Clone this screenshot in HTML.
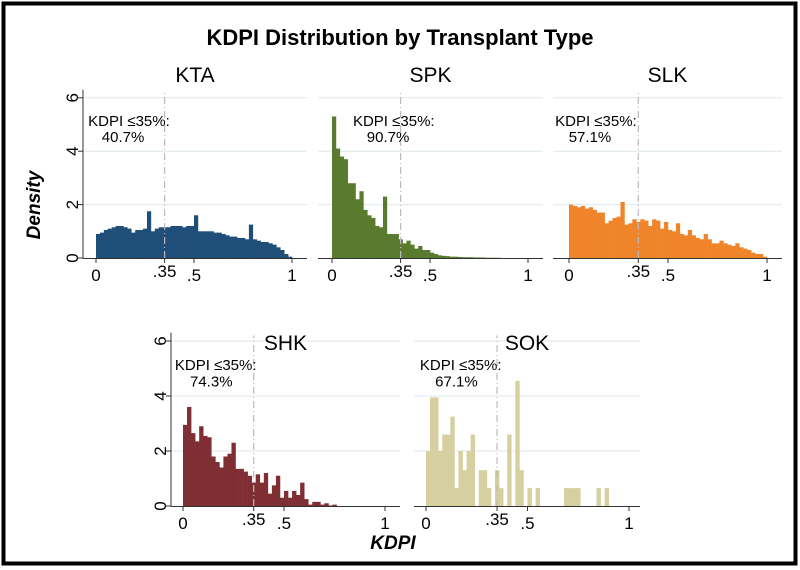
<!DOCTYPE html>
<html><head><meta charset="utf-8"><style>
html,body{margin:0;padding:0;background:#fff}
svg{display:block}
text{font-family:"Liberation Sans",Arial,sans-serif}
</style></head><body>
<svg id="chart" width="800" height="570" viewBox="0 0 800 570">
<rect x="3.5" y="3.5" width="792" height="560" fill="#fff" stroke="#000" stroke-width="4"/>
<text x="400" y="45" text-anchor="middle" font-size="22" font-weight="bold">KDPI Distribution by Transplant Type</text>
<text transform="translate(40,205) rotate(-90)" text-anchor="middle" font-size="19" font-weight="bold" font-style="italic">Density</text>
<text x="393" y="549" text-anchor="middle" font-size="19" font-weight="bold" font-style="italic">KDPI</text>
</svg>
<script>
const ktaValues=[0.9,0.95,1.05,1.1,1.15,1.2,1.2,1.15,1.1,0.95,1.05,1.05,1.1,1.75,1.0,1.1,1.15,1.15,1.15,1.2,1.2,1.2,1.15,1.2,1.2,1.6,1.0,1.0,1.0,1.0,0.95,0.95,0.9,0.85,0.8,0.8,0.75,0.75,0.7,1.25,0.7,0.65,0.6,0.6,0.55,0.5,0.4,0.3,0.15,0.05];
const spkValues=[5.3,4.1,3.8,3.7,2.8,2.8,2.2,2.5,1.8,1.6,1.5,1.2,1.15,2.3,0.9,0.9,0.9,0.7,0.55,0.65,0.5,0.35,0.45,0.3,0.3,0.2,0.15,0.1,0.08,0.07,0.05,0.05,0.04,0.03,0.03,0.03,0.02,0.02,0.02,0.01,0.01,0.01,0.01,0,0,0,0,0,0,0];
const slkValues=[2.0,1.95,1.9,1.95,1.85,1.9,1.8,1.7,1.7,1.3,1.4,1.5,1.55,2.1,1.25,1.3,1.45,1.35,1.45,1.4,1.2,1.45,1.4,1.1,1.35,1.05,1.0,1.3,0.9,0.85,1.05,0.85,0.75,0.7,0.9,0.7,0.55,0.55,0.65,0.55,0.5,0.45,0.55,0.4,0.35,0.3,0.2,0.15,0.15,0.05];
const shkValues=[2.95,3.6,2.65,2.35,2.9,2.55,2.5,1.8,1.6,1.4,1.8,1.9,2.3,1.35,1.35,1.25,1.1,0.85,1.15,0.85,1.2,0.45,0.75,1.1,0.3,0.55,0.3,0.55,0.4,0.85,0.25,0.05,0.15,0.15,0.05,0.1,0.02,0.05,0,0,0,0,0,0,0,0,0,0,0,0];
const sokValues=[2.0,3.95,3.95,2.0,2.6,2.6,3.25,0.65,2.0,1.3,2.0,2.6,0,1.3,1.3,0.65,0,1.3,0.65,0,2.6,0,4.55,1.3,0,0.65,0,0.65,0,0,0,0,0,0,0.65,0.65,0.65,0.65,0,0,0,0,0.65,0,0.65,0,0,0,0,0];
const panelNames=["KTA","SPK","SLK","SHK","SOK"];
const panelPct=["40.7%","90.7%","57.1%","74.3%","67.1%"];
const yTicks=[0,2,4,6];
const xTicks=[0,0.35,0.5,1];
const xTickLabels=["0",".35",".5","1"];
const cutoff=0.35;

const svg=document.getElementById('chart');
const NS='http://www.w3.org/2000/svg';
function mk(tag,attrs,parent){const e=document.createElementNS(NS,tag);for(const k in attrs)e.setAttribute(k,attrs[k]);(parent||svg).appendChild(e);return e;}

const panels=[
 {vals:ktaValues,color:'#1f4e79',x0:96,x1:292,left:83,right:307,y0:258,unit:26.7,axis:true,ty:82,a1:-0.04,a2:0.138},
 {vals:spkValues,color:'#5a7a2e',x0:332,x1:528,left:318,right:543,y0:258,unit:26.7,axis:false,ty:82,a1:0.107,a2:0.286},
 {vals:slkValues,color:'#f0842a',x0:569,x1:767,left:553,right:782,y0:258,unit:26.7,axis:false,ty:82,a1:-0.07,a2:0.106},
 {vals:shkValues,color:'#7f2f33',x0:183,x1:385,left:171,right:400,y0:506,unit:27.5,axis:true,ty:350,a1:-0.04,a2:0.14},
 {vals:sokValues,color:'#d6cfa0',x0:426,x1:629,left:414,right:640,y0:506,unit:27.5,axis:false,ty:350,a1:-0.03,a2:0.15}
];
panels.forEach((p,i)=>{
 const key=panelNames[i].toLowerCase();
 const g=mk('g',{});
 
 
 const xs=v=>p.x0+v*(p.x1-p.x0);
 const ys=v=>p.y0-v*p.unit;
 yTicks.forEach(t=>{ if(t===0)return;
  const l=mk('line',{x1:p.left,x2:p.right,y1:ys(t),y2:ys(t),stroke:'#dde8ee','stroke-width':1},g);
  
  
 });
 const n=p.vals.length,bw=1/n;
 p.vals.forEach((v,j)=>{ if(v<=0)return;
  const r=mk('rect',{x:xs(j*bw),y:ys(v),width:xs((j+1)*bw)-xs(j*bw)+0.3,height:v*p.unit,fill:p.color},g);
  
  
 });
 const cl=mk('line',{x1:xs(cutoff),x2:xs(cutoff),y1:p.y0,y2:ys(6.2),stroke:'#bbb','stroke-width':1.2,'stroke-dasharray':'7,3,1,3'},g);
 
 
 const xa=mk('line',{x1:p.left,x2:p.right,y1:p.y0+0.5,y2:p.y0+0.5,stroke:'#333','stroke-width':1},g);
 
 
 xTicks.forEach((t,k)=>{
  const tl=mk('line',{x1:xs(t),x2:xs(t),y1:p.y0,y2:p.y0+5,stroke:'#333'},g);
  
  
  const tx=mk('text',{x:xs(t),y:p.y0+(t===0.35?19:23),'text-anchor':'middle','font-size':17},g);
  tx.textContent=xTickLabels[k];
  
  
 });
 if(p.axis){
  const ya=mk('line',{x1:p.left,x2:p.left,y1:p.y0,y2:ys(6.3),stroke:'#333'},g);
  
  
  yTicks.forEach(t=>{
   const tl=mk('line',{x1:p.left-5,x2:p.left,y1:ys(t),y2:ys(t),stroke:'#333'},g);
   
   
   const tx=mk('text',{transform:`translate(${p.left-5},${ys(t)}) rotate(-90)`,'text-anchor':'middle','font-size':17},g);
   tx.textContent=String(t);
   
   
  });
 }
 const tt=mk('text',{x:(p.left+p.right)/2,y:p.ty,'text-anchor':'middle','font-size':21},g);
 tt.textContent=panelNames[i];
 
 
 const a1=mk('text',{x:xs(p.a1),y:ys(4.95),'text-anchor':'start','font-size':15},g);
 a1.textContent='KDPI ≤35%:';
 
 
 const a2=mk('text',{x:xs(p.a2),y:ys(4.35),'text-anchor':'middle','font-size':15},g);
 a2.textContent=panelPct[i];
 
 
});
</script>
</body></html>
